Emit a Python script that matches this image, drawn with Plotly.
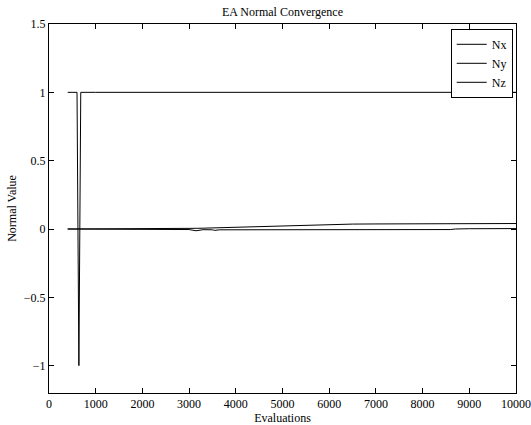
import plotly.graph_objects as go

evaluations = [400, 600, 640, 680, 1000, 2000, 2400, 2600, 2800, 3000, 3150, 3300, 3500, 3550, 3650, 3800, 4000,
               4500, 4950, 5050, 5200, 5600, 5700, 5800, 6000, 6500, 7000, 8000, 8600, 8700, 9000, 10000]
nx = [0, 0, 0, 0, 0, 0, 0.0005, 0.001, 0.003, 0.004, 0.005, 0.006, 0.008, 0.009, 0.010, 0.012, 0.015,
      0.019, 0.023, 0.025, 0.026, 0.029, 0.031, 0.032, 0.034, 0.036, 0.037, 0.038, 0.039, 0.039, 0.040, 0.040]
ny = [0, 0, 0, 0, 0, 0, -0.0005, -0.001, -0.003, -0.004, -0.013, -0.005, -0.006, -0.010, -0.006, -0.006, -0.005,
      -0.004, -0.008, -0.004, -0.004, -0.005, -0.009, -0.005, -0.005, -0.005, -0.005, -0.005, -0.004, 0.000, 0.002, 0.003]
nz = [1, 1, -1, 1, 1, 1, 1, 1, 1, 1, 1, 1, 1, 1, 1, 1, 1,
      1, 1, 1, 1, 1, 1, 1, 1, 1, 1, 1, 1, 1, 1, 1]

x_ticks = [0, 1000, 2000, 3000, 4000, 5000, 6000, 7000, 8000, 9000, 10000]
y_ticks = [-1, -0.5, 0, 0.5, 1, 1.5]

font = "Liberation Serif"

fig = go.Figure()
for name, vals in [("Nx", nx), ("Ny", ny), ("Nz", nz)]:
    fig.add_trace(go.Scatter(x=evaluations, y=vals, mode="lines", name=name,
                             line=dict(color="black", width=1)))

axis_common = dict(showline=True, linecolor="black", linewidth=1, mirror="ticks",
                   ticks="inside", ticklen=5, tickcolor="black", tickwidth=1,
                   showgrid=False, zeroline=False, automargin=False,
                   tickfont=dict(family=font, size=12, color="black"))

fig.update_layout(
    width=531, height=425,
    margin=dict(l=49, r=15, t=24, b=32),
    paper_bgcolor="white", plot_bgcolor="white",
    font=dict(family=font, size=12, color="black"),
    title=dict(text="EA Normal Convergence", x=0.532, xanchor="center", y=0.973, yanchor="middle",
               font=dict(family=font, size=12, color="black")),
    xaxis=dict(range=[0, 10000], tickvals=x_ticks, ticktext=[str(v) for v in x_ticks],
               title=dict(text="Evaluations", standoff=0, font=dict(family=font, size=12)),
               **axis_common),
    yaxis=dict(range=[-1.2, 1.5], tickvals=y_ticks,
               ticktext=["\u22121", "\u22120.5", "0", "0.5", "1", "1.5"],
               title=dict(text="Normal Value", standoff=4, font=dict(family=font, size=12)),
               **axis_common),
    legend=dict(x=0.993, y=0.987, xanchor="right", yanchor="top",
                bgcolor="white", bordercolor="black", borderwidth=1,
                font=dict(family=font, size=12), itemwidth=30,
                tracegroupgap=0),
    showlegend=True,
)

fig.write_html("out.html", config={"displayModeBar": False},
               post_script="document.body.style.margin='0';document.body.style.overflow='hidden';")
